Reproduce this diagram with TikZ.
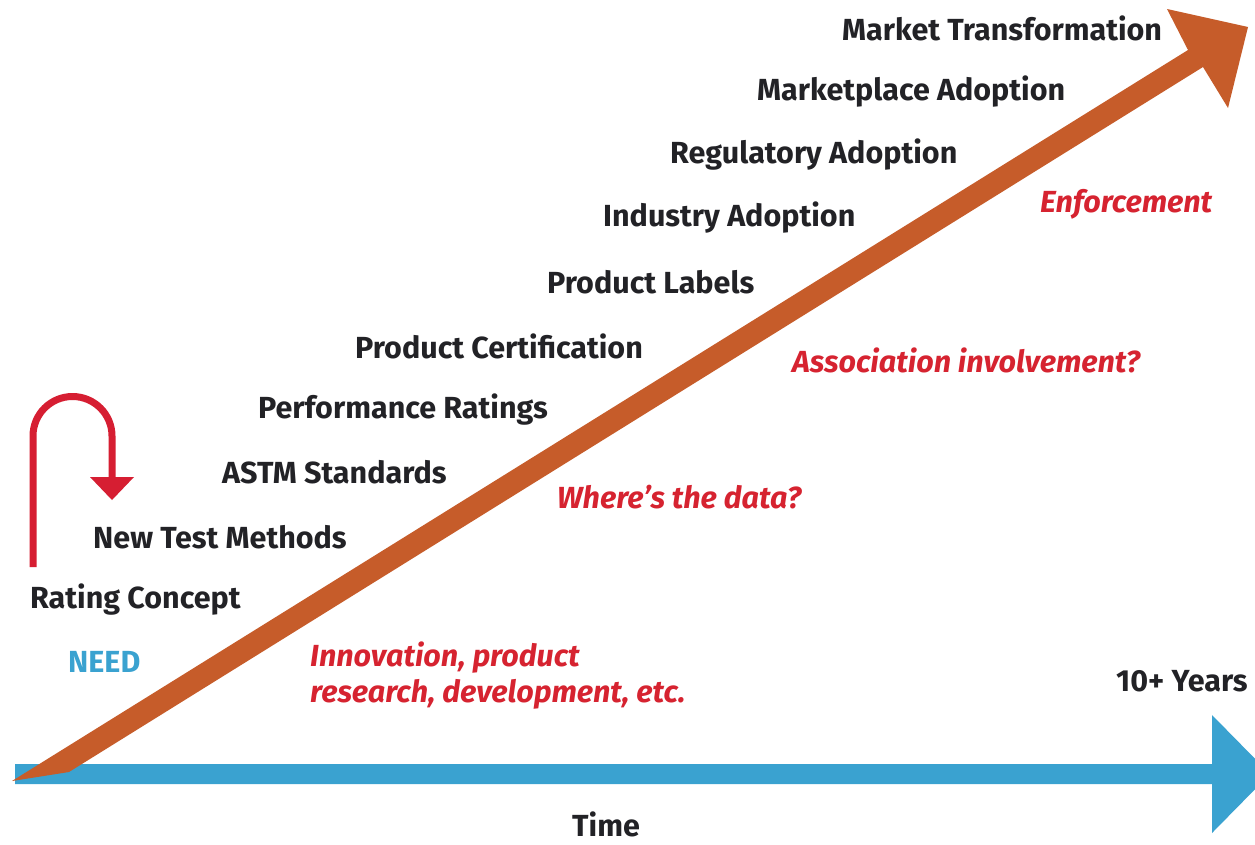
\documentclass[tikz,border=0pt]{standalone}
\usepackage{fontspec}
\setmainfont{Fira Sans}
\definecolor{stepink}{RGB}{34,34,38}
\definecolor{notered}{RGB}{214,35,48}
\definecolor{loopred}{RGB}{214,30,50}
\definecolor{rust}{RGB}{198,92,42}
\definecolor{skyblue}{RGB}{58,162,208}
\begin{document}
\begin{tikzpicture}[x=1pt,y=-1pt,
  stage/.style={anchor=west,inner sep=0pt,text=stepink,font=\fontsize{30.5}{36}\selectfont\bfseries},
  note/.style={anchor=west,inner sep=0pt,text=notered,font=\fontsize{30.5}{36}\selectfont\bfseries\itshape,align=left},
  axislabel/.style={anchor=base west,inner sep=0pt,text=stepink,font=\fontsize{30.5}{36}\selectfont\bfseries}]
\clip (0,0) rectangle (1255,844);
\fill[white] (0,0) rectangle (1255,844);

% time axis
\coordinate (t0) at (15,774);
\coordinate (t1) at (1212,774);
\fill[skyblue] (15,764) -- (1212,764) -- (1212,715) -- (1270,774) -- (1212,833) -- (1212,784) -- (15,784) -- cycle;

% rising progress arrow
\coordinate (p0) at (12,781);
\coordinate (p1) at (1248,27);
\fill[rust] (12,781) -- (1188,50) -- (1167,9) -- (1248,27) -- (1228,108) -- (1203,67) -- (69,772) -- cycle;

% feedback loop
\coordinate (l0) at (33,567);
\coordinate (l1) at (112,478);
\draw[loopred,line width=7pt] (l0) -- (33,436) arc[start angle=180,end angle=360,radius=39.5] -- (l1);
\fill[loopred] (90,477) -- (134,477) -- (112,500) -- cycle;

% stages
\node[stage] (mt) at (842,28) {Market Transformation};
\node[stage] (ma) at (757,92) {Marketplace Adoption};
\node[stage] (ra) at (670,155) {Regulatory Adoption};
\node[stage] (ia) at (603,218) {Industry Adoption};
\node[stage] (pl) at (547,282) {Product Labels};
\node[stage] (pc) at (355,346) {Product Certification};
\node[stage] (pr) at (258,410) {Performance Ratings};
\node[stage] (as) at (222,472) {ASTM Standards};
\node[stage] (nt) at (93,537) {New Test Methods};
\node[stage] (rc) at (30,600) {Rating Concept};
\node[stage,text=skyblue] (need) at (68,662) {NEED};

% notes
\node[note] (enf) at (1040,204) {Enforcement};
\node[note] (assoc) at (792,360) {Association involvement?};
\node[note] (data) at (557,497) {Where’s the data?};
\node[note] (innov) at (310,676) {Innovation, product\\research, development, etc.};

% axis labels
\node[axislabel] (years) at (1116,691) {10+ Years};
\node[axislabel] (time) at (572,836) {Time};
\end{tikzpicture}
\end{document}
